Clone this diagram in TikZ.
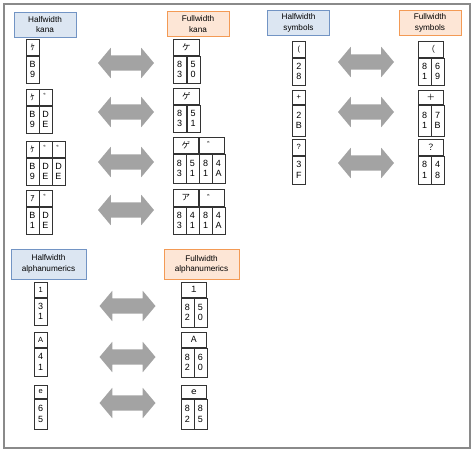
\documentclass[tikz,border=0pt]{standalone}
\usepackage{fontspec}
\setsansfont{Liberation Sans}
\newfontfamily\jpfont{Noto Sans CJK JP}
\usepackage{xcolor}
\usepackage{tikz}
\usetikzlibrary{shapes.arrows,positioning}

\definecolor{halffill}{HTML}{DCE6F2}
\definecolor{halfline}{HTML}{7294C4}
\definecolor{fullfill}{HTML}{FDE6D6}
\definecolor{fullline}{HTML}{F39A55}
\definecolor{arrowgray}{HTML}{A3A3A3}
\definecolor{framegray}{HTML}{8A8A8A}

\begin{document}
\begin{tikzpicture}[x=1pt, y=-1pt,
  lbl/.style={rectangle, line width=1pt, minimum width=62pt, minimum height=25pt,
              inner sep=0pt, align=center, font=\sffamily\fontsize{8.2}{10.5}\selectfont},
  half/.style={lbl, draw=halfline, fill=halffill},
  full/.style={lbl, draw=fullline, fill=fullfill},
  cell/.style={rectangle, draw=black!80, line width=0.5pt, inner sep=0pt,
               anchor=north west, minimum width=13pt, align=center},
  chr/.style={cell, minimum height=16pt, font=\sffamily\fontsize{7.5}{8}\selectfont},
  jchr/.style={cell, minimum height=16pt, font=\jpfont\fontsize{8.5}{8}\selectfont},
  code/.style={cell, minimum height=27pt, font=\sffamily\fontsize{9}{10.5}\selectfont},
  nar/.style={minimum width=12.5pt},
  wide/.style={minimum width=25pt},
  swap/.style={double arrow, draw=none, fill=arrowgray, inner sep=0pt,
               text height=15pt, text depth=0pt, minimum height=56pt,
               double arrow head extend=7.5pt, double arrow tip angle=100},
]
\useasboundingbox (0,0) rectangle (474,453);
\draw[framegray, line width=1.4pt] (4,4) rectangle (470,448);

% Titles
\node[half] (hk) at (45,24.5) {Halfwidth\\kana};
\node[full] (fk) at (198,24) {Fullwidth\\kana};
\node[half] (hs) at (298.5,23) {Halfwidth\\symbols};
\node[full] (fs) at (430,23) {Fullwidth\\symbols};
\node[half, minimum width=75pt, minimum height=30pt] (ha) at (48.5,264) {Halfwidth\\alphanumerics};
\node[full, minimum width=75pt, minimum height=30pt] (fa) at (201.5,264.5) {Fullwidth\\alphanumerics};

% Halfwidth kana
\node[jchr] (hk1a) at (26,39) {ｹ};
\node[code] (hk1b) at (hk1a.south west) {B\\9};
\node[jchr, nar] (hk2a) at (26,89) {ｹ};
\node[jchr, nar] (hk2b) at (hk2a.north east) {ﾞ};
\node[code, nar] (hk2c) at (hk2a.south west) {B\\9};
\node[code, nar] (hk2d) at (hk2c.north east) {D\\E};
\node[jchr, nar] (hk3a) at (26,141) {ｹ};
\node[jchr, nar] (hk3b) at (hk3a.north east) {ﾞ};
\node[jchr, nar] (hk3c) at (hk3b.north east) {ﾞ};
\node[code, nar] (hk3d) at (hk3a.south west) {B\\9};
\node[code, nar] (hk3e) at (hk3d.north east) {D\\E};
\node[code, nar] (hk3f) at (hk3e.north east) {D\\E};
\node[jchr, nar] (hk4a) at (26,190) {ｱ};
\node[jchr, nar] (hk4b) at (hk4a.north east) {ﾞ};
\node[code, nar] (hk4c) at (hk4a.south west) {B\\1};
\node[code, nar] (hk4d) at (hk4c.north east) {D\\E};

% Fullwidth kana
\node[jchr, minimum width=26pt] (fk1a) at (173,39) {ケ};
\node[code] (fk1b) at (fk1a.south west) {8\\3};
\node[code] (fk1c) at (fk1b.north east) {5\\0};
\node[jchr, minimum width=26pt] (fk2a) at (173,88) {ゲ};
\node[code] (fk2b) at (fk2a.south west) {8\\3};
\node[code] (fk2c) at (fk2b.north east) {5\\1};
\node[jchr, wide] (fk3a) at (173,137) {ゲ};
\node[jchr, wide] (fk3b) at (fk3a.north east) {゛};
\node[code, nar, minimum height=29pt] (fk3c) at (fk3a.south west) {8\\3};
\node[code, nar, minimum height=29pt] (fk3d) at (fk3c.north east) {5\\1};
\node[code, nar, minimum height=29pt] (fk3e) at (fk3d.north east) {8\\1};
\node[code, nar, minimum height=29pt] (fk3f) at (fk3e.north east) {4\\A};
\node[jchr, wide, minimum height=17pt] (fk4a) at (173,189) {ア};
\node[jchr, wide, minimum height=17pt] (fk4b) at (fk4a.north east) {゛};
\node[code, nar] (fk4c) at (fk4a.south west) {8\\3};
\node[code, nar] (fk4d) at (fk4c.north east) {4\\1};
\node[code, nar] (fk4e) at (fk4d.north east) {8\\1};
\node[code, nar] (fk4f) at (fk4e.north east) {4\\A};

% Halfwidth symbols
\node[chr] (hs1a) at (292,41) {(};
\node[code] (hs1b) at (hs1a.south west) {2\\8};
\node[chr, minimum height=14pt] (hs2a) at (292,90) {+};
\node[code, minimum height=31pt] (hs2b) at (hs2a.south west) {2\\B};
\node[chr] (hs3a) at (292,139) {?};
\node[code, minimum height=28pt] (hs3b) at (hs3a.south west) {3\\F};

% Fullwidth symbols
\node[jchr, wide] (fs1a) at (418,41) {（};
\node[code, nar] (fs1b) at (fs1a.south west) {8\\1};
\node[code, nar] (fs1c) at (fs1b.north east) {6\\9};
\node[jchr, wide, minimum height=14pt] (fs2a) at (418,90) {＋};
\node[code, nar, minimum height=31pt] (fs2b) at (fs2a.south west) {8\\1};
\node[code, nar, minimum height=31pt] (fs2c) at (fs2b.north east) {7\\B};
\node[jchr, wide] (fs3a) at (418,139) {？};
\node[code, nar, minimum height=28pt] (fs3b) at (fs3a.south west) {8\\1};
\node[code, nar, minimum height=28pt] (fs3c) at (fs3b.north east) {4\\8};

% Halfwidth alphanumerics
\node[chr, minimum height=15pt] (ha1a) at (34,282) {1};
\node[code] (ha1b) at (ha1a.south west) {3\\1};
\node[chr, minimum height=15pt] (ha2a) at (34,332) {A};
\node[code, minimum height=28pt] (ha2b) at (ha2a.south west) {4\\1};
\node[chr, minimum height=13pt] (ha3a) at (34,385) {e};
\node[code, minimum height=30pt] (ha3b) at (ha3a.south west) {6\\5};

% Fullwidth alphanumerics
\node[jchr, wide, minimum height=15pt] (fa1a) at (181,282) {１};
\node[code, nar, minimum height=29pt] (fa1b) at (fa1a.south west) {8\\2};
\node[code, nar, minimum height=29pt] (fa1c) at (fa1b.north east) {5\\0};
\node[jchr, wide, minimum height=15pt] (fa2a) at (181,332) {Ａ};
\node[code, nar, minimum height=29pt] (fa2b) at (fa2a.south west) {8\\2};
\node[code, nar, minimum height=29pt] (fa2c) at (fa2b.north east) {6\\0};
\node[jchr, wide, minimum height=13pt] (fa3a) at (181,385) {ｅ};
\node[code, nar, minimum height=30pt] (fa3b) at (fa3a.south west) {8\\2};
\node[code, nar, minimum height=30pt] (fa3c) at (fa3b.north east) {8\\5};

% Conversion arrows
\node[swap] (kx1) at (126,63) {};
\node[swap] (kx2) at (126,112) {};
\node[swap] (kx3) at (126,162) {};
\node[swap] (kx4) at (126,210) {};
\node[swap] (sx1) at (366,62) {};
\node[swap] (sx2) at (366,112) {};
\node[swap] (sx3) at (366,163) {};
\node[swap] (ax1) at (127.5,306) {};
\node[swap] (ax2) at (127.5,357) {};
\node[swap] (ax3) at (127.5,403) {};
\end{tikzpicture}
\end{document}
